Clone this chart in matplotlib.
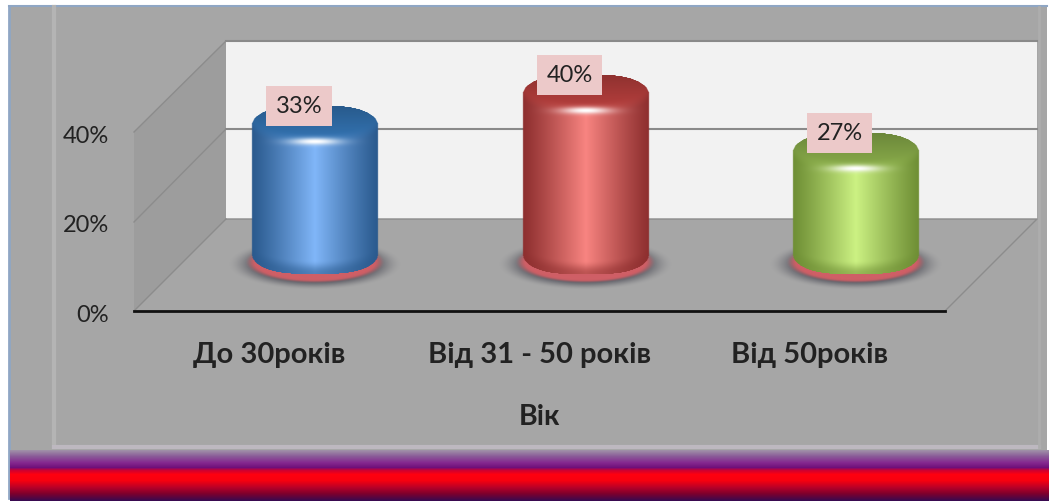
import numpy as np
import matplotlib
matplotlib.use("Agg")
import matplotlib.pyplot as plt
from matplotlib.patches import Polygon, Rectangle
from matplotlib.colors import to_rgb
from matplotlib.transforms import ScaledTranslation

categories = ["До 30років", "Від 31 - 50 років", "Від 50років"]
values = [33, 40, 27]
y_ticks = [0, 20, 40]
axis_label = "Вік"
edge_colors = ["#2a5a8e", "#8e2f2f", "#6f8f35"]
mid_colors = ["#86bcff", "#ff8a86", "#d2f888"]
cap_colors = ["#2f6aa4", "#a83a38", "#7e9e44"]

W, H = 1049, 501
plt.rcParams["font.family"] = ["Lato", "Noto Sans", "DejaVu Sans"]
fig = plt.figure(figsize=(W / 100, H / 100), dpi=100, facecolor="white")


def axes_px(x0, y_top, x1, y_bottom):
    return fig.add_axes([x0 / W, 1 - y_bottom / H, (x1 - x0) / W, (y_bottom - y_top) / H])


# ===== background plate, walls, floor (pixel axes) =====
bg = fig.add_axes([0, 0, 1, 1], zorder=0)
bg.set_xlim(0, W)
bg.set_ylim(H, 0)
bg.axis("off")
bg.add_patch(Rectangle((9, 6), 1038, 446, fc="#a6a6a6", ec="none"))
bg.plot([9, 9], [6, 498], color="#8fa6c4", lw=2)
bg.plot([9, 1047], [6, 6], color="#8fa6c4", lw=1.5)
bg.plot([54, 54], [7, 447], color="#b4b4b4", lw=3)
bg.plot([54, 1039], [447, 447], color="#bdb8c0", lw=3)
bg.plot([1039, 1039], [7, 447], color="#adadad", lw=2)

bg.add_patch(Polygon([(226, 41), (134, 132), (134, 311), (226, 219)], fc="#9d9d9d", ec="none"))
bg.add_patch(Rectangle((226, 41), 811, 178, fc="#f2f2f2", ec="none"))
bg.plot([226, 1037], [41, 41], color="#8a8a8a", lw=1.5)
bg.plot([226, 1037], [129, 129], color="#8a8a8a", lw=1.5)
bg.plot([226, 1037, 945], [219, 219, 311], color="#8c8c8c", lw=1)
bg.plot([134, 226], [132, 41], color="#8c8c8c", lw=1)
bg.plot([134, 226], [222, 129], color="#8c8c8c", lw=1)
bg.plot([134, 226], [311, 219], color="#8c8c8c", lw=1)

# bottom stripe
stops_y = [450, 456, 462, 467, 470, 474, 480, 487, 493, 500]
stops_c = ["#a08fa8", "#8a5a98", "#862a90", "#70107a", "#d00030", "#ff0010", "#f8000f",
           "#b80028", "#80002c", "#3a0a50"]
rows = np.arange(450, 501)
stripe = np.array([[np.interp(r, stops_y, [to_rgb(c)[k] for c in stops_c]) for k in range(3)] for r in rows])
bg.imshow(stripe[:, None, :], extent=(10, 1049, 501, 450), aspect="auto", zorder=3)
bg.set_xlim(0, W)
bg.set_ylim(H, 0)

# ===== front plane: ticks and category labels =====
ax = axes_px(134, 132, 945, 311)
ax.set_zorder(1)
ax.patch.set_alpha(0)
ax.set_xlim(-0.5, 2.5)
ax.set_ylim(0, 40)
for s in ["top", "right", "left"]:
    ax.spines[s].set_visible(False)
ax.spines["bottom"].set_linewidth(2)
ax.spines["bottom"].set_color("#111111")
ax.set_yticks(y_ticks)
ax.set_yticklabels([f"{t}%" for t in y_ticks], fontsize=17, color="#222222")
ax.set_xticks(range(3))
ax.set_xticklabels(categories, fontsize=21, fontweight="bold", color="#222222")
ax.tick_params(axis="both", length=0)
ax.tick_params(axis="y", pad=18)
ax.tick_params(axis="x", pad=22)
nudge = ScaledTranslation(0, -2.5 / 100, fig.dpi_scale_trans)
for lab in ax.get_yticklabels():
    lab.set_transform(lab.get_transform() + nudge)
ax.set_xlabel(axis_label, fontsize=20.5, fontweight="bold", color="#222222", labelpad=26)

# ===== cylinders =====
px_per_pct = 4.47
bars = axes_px(180, 93, 991, 272)
bars.set_zorder(2)
bars.patch.set_alpha(0)
bars.axis("off")
bars.set_xlim(-0.5, 2.5)
bars.set_ylim(0, 40)
px_per_cat = 811 / 3
half_w = 63
ry = 18
base_y = 272 - 257  # bottom ellipse centre above the zero line, px


def smooth(a, b, x):
    t = np.clip((x - a) / (b - a), 0, 1)
    return t * t * (3 - 2 * t)


def cylinder(i, v):
    top_c = v * px_per_pct  # px above zero
    ypx = np.arange(top_c + ry + 1, base_y - ry - 1, -1.0)
    xpx = np.arange(-half_w - 1, half_w + 1.5, 0.5)
    X, Y = np.meshgrid(xpx, ypx)
    u = np.clip(X / half_w, -1, 1)
    arc = ry * np.sqrt(1 - u ** 2)
    # the outline is boxier than an ellipse, the rim is bevelled
    outer = ry * (1 - np.abs(u) ** 3.2) ** 0.6
    depth_top = top_c - Y  # px below the cap centre
    depth_bot = base_y - Y  # px below the base centre
    edge, mid, cap = [np.array(to_rgb(c)) for c in (edge_colors[i], mid_colors[i], cap_colors[i])]
    k = (1 - np.abs(u)) ** 1.1
    k = k[..., None]
    rgb = edge * (1 - k) + mid * k
    rgb = rgb * 0.94 + 0.06 * edge
    blend = smooth(arc - 9, arc + 6, depth_top)[..., None]
    cap_shade = cap * (0.85 + 0.25 * np.clip((depth_top + ry) / (2 * ry), 0, 1))[..., None]
    rgb = cap_shade * (1 - blend) + rgb * blend
    dark = smooth(arc - 14, arc - 1, depth_bot)[..., None]
    rgb = rgb * (1 - 0.55 * dark) + edge * 0.55 * dark
    hl = np.exp(-((X / 24) ** 2) - ((depth_top - ry) / 3.5) ** 2)[..., None]
    rgb = rgb * (1 - hl) + hl
    inside = (np.abs(X) <= half_w) & (depth_top >= -outer) & (depth_bot <= outer)
    rgba = np.dstack([np.clip(rgb, 0, 1), inside.astype(float)])
    x0 = i + xpx[0] / px_per_cat
    x1 = i + xpx[-1] / px_per_cat
    bars.imshow(rgba, extent=(x0, x1, ypx[-1] / px_per_pct, ypx[0] / px_per_pct),
                aspect="auto", interpolation="bilinear", zorder=4, clip_on=False)


def shadow(i):
    xpx = np.arange(-100, 100.5, 1.0)
    ypx = np.arange(50, -30, -1.0)  # px above zero line
    X, Y = np.meshgrid(xpx, ypx)
    ext = (i - 100 / px_per_cat, i + 100 / px_per_cat, -30 / px_per_pct, 50 / px_per_pct)
    r = np.sqrt((X / 86) ** 2 + ((Y - (272 - 264)) / 25) ** 2)
    rgba = np.zeros(X.shape + (4,))
    rgba[..., :3] = to_rgb("#50505a")
    rgba[..., 3] = 0.95 * (1 - smooth(0.6, 1.02, r))
    bars.imshow(rgba, extent=ext, aspect="auto", zorder=2, clip_on=False)
    r2 = np.sqrt((X / 68) ** 2 + ((Y - (272 - 262)) / 20) ** 2)
    rgba2 = np.zeros(X.shape + (4,))
    rgba2[..., :3] = to_rgb("#cf5f66")
    rgba2[..., 3] = 1 - smooth(0.88, 1.04, r2)
    bars.imshow(rgba2, extent=ext, aspect="auto", zorder=3, clip_on=False)


for i, v in enumerate(values):
    shadow(i)
    cylinder(i, v)
    bars.annotate(f"{v}%", (i, v), xytext=(-16, 18), textcoords="offset pixels",
                  ha="center", va="center", fontsize=17, color="#222222", zorder=6,
                  annotation_clip=False,
                  bbox=dict(boxstyle="square,pad=0.4", fc="#ecc9c9", ec="none"))
bars.set_xlim(-0.5, 2.5)
bars.set_ylim(0, 40)

fig.savefig("out.png", dpi=100)
